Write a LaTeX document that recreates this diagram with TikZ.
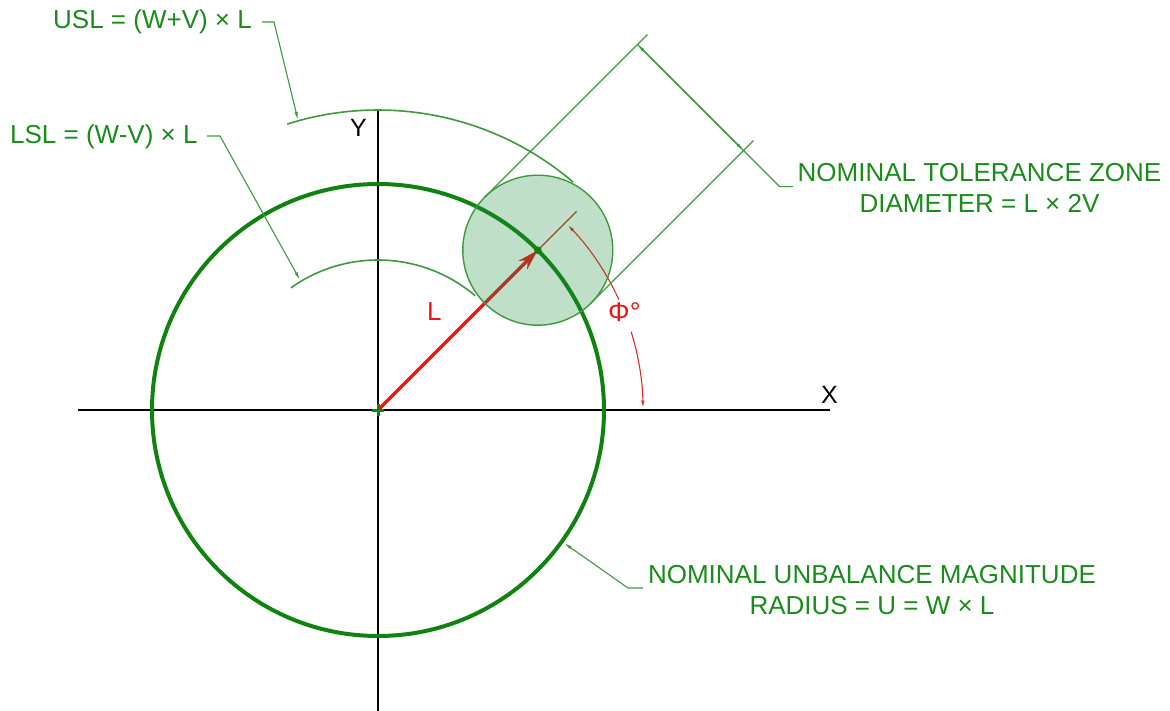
\documentclass[tikz,border=0pt]{standalone}
\usepackage{fontspec}
\setmainfont{Liberation Sans}
\usetikzlibrary{arrows.meta}
\definecolor{txtgreen}{RGB}{25,140,25}
\definecolor{cgreen}{RGB}{15,130,15}
\definecolor{lgreen}{RGB}{60,155,60}
\definecolor{tolfill}{RGB}{30,140,60}
\definecolor{vred}{RGB}{240,20,20}
\definecolor{dred}{RGB}{225,40,35}
\begin{document}
\begin{tikzpicture}[x=1pt,y=-1pt,
  axisline/.style={line width=2.8pt,black},
  lbl/.style={font=\fontsize{26}{31}\selectfont, text=txtgreen, inner sep=0pt, anchor=base},
  axlbl/.style={font=\fontsize{25}{30}\selectfont, text=black, inner sep=0pt, anchor=base west},
  fine/.style={lgreen, line width=1.1pt},
  limarc/.style={lgreen, line width=1.6pt},
  gtip/.style={-{Latex[length=8pt,width=3.5pt]}},
  rtip/.style={-{Latex[length=7pt,width=3.5pt]}},
  redfine/.style={dred, line width=1.1pt}
]
\useasboundingbox (0,0) rectangle (1170,711);

% key points
\coordinate (O) at (378,410);
\coordinate (P) at (537.8,250.2);
\coordinate (T1) at (484.8,197.2);
\coordinate (T2) at (590.8,303.2);
\coordinate (E1) at (647.4,34.6);
\coordinate (E2) at (753.4,140.6);
\coordinate (D1) at (637.5,44.5);
\coordinate (D2) at (743.5,150.5);
\coordinate (K) at (779.6,186.6);
\coordinate (K2) at (793,186.6);
\coordinate (R1) at (576.7,211.3);
\coordinate (Xl) at (78,410);
\coordinate (Xr) at (830,410);
\coordinate (Yt) at (378,110);
\coordinate (Yb) at (378,711);

% axes
\draw[axisline] (Xl) -- (Xr);
\draw[axisline] (Yt) -- (Yb);
\node[axlbl] (xlab) at (821,403) {X};
\node[axlbl] (ylab) at (350,137) {Y};

% nominal circle
\draw[cgreen, line width=4pt] (O) circle[radius=226];

% USL and LSL arcs
\draw[limarc] ([shift={(O)}]-107.6:300) arc[start angle=-107.6, end angle=-49.4, radius=300];
\draw[limarc] ([shift={(O)}]-125.5:150) arc[start angle=-125.5, end angle=-49.6, radius=150];

% vector L
\draw[line width=3.2pt, vred, -{Stealth[length=21pt,width=12pt]}] (O) -- (P);
\node[font=\fontsize{26}{31}\selectfont, text=vred, inner sep=0pt, anchor=base west] (Llab) at (427,320) {L};

% red extension line and angle
\draw[redfine] (P) -- (R1);
\draw[redfine, rtip] ([shift={(O)}]-24.6:265) arc[start angle=-24.6, end angle=-44.2, radius=265];
\draw[redfine, rtip] ([shift={(O)}]-17.2:265) arc[start angle=-17.2, end angle=-0.5, radius=265];
\node[font=\fontsize{27}{32}\selectfont, text=vred, inner sep=0pt, anchor=base west] (phi) at (608,322) {Φ°};

% tolerance zone
\draw[lgreen, line width=1.4pt, fill=tolfill, fill opacity=0.28] (P) circle[radius=75];
\fill[cgreen] (P) circle[radius=3.8];

% origin mark
\draw[cgreen, line width=3pt] (372,410) -- (384,410) (378,404) -- (378,416);

% extension and dimension lines
\draw[fine] (T1) -- (E1);
\draw[fine] (T2) -- (E2);
\draw[fine, gtip] (D2) -- (D1);
\draw[fine, gtip] (D1) -- (D2);
\draw[fine] (D2) -- (K) -- (K2);

% labels
\node[lbl] (tol1) at (979.5,182) {NOMINAL TOLERANCE ZONE};
\node[lbl] (tol2) at (979.5,213) {DIAMETER = L × 2V};
\node[lbl] (unb1) at (872,583) {NOMINAL UNBALANCE MAGNITUDE};
\node[lbl] (unb2) at (872,614) {RADIUS = U = W × L};
\node[lbl, anchor=base west] (usl) at (53,29) {USL = (W+V) × L};
\node[lbl, anchor=base west] (lsl) at (10,144) {LSL = (W-V) × L};

% leaders
\coordinate (ua) at (262,22);
\coordinate (ub) at (274,22);
\coordinate (uc) at (298,120);
\draw[fine, gtip] (ua) -- (ub) -- (uc);
\coordinate (la) at (207,136);
\coordinate (lb) at (220,136);
\coordinate (lc) at (300,280);
\draw[fine, gtip] (la) -- (lb) -- (lc);
\coordinate (na) at (643,588);
\coordinate (nb) at (628,588);
\coordinate (nc) at (564,543);
\draw[fine, gtip] (na) -- (nb) -- (nc);
\end{tikzpicture}
\end{document}
